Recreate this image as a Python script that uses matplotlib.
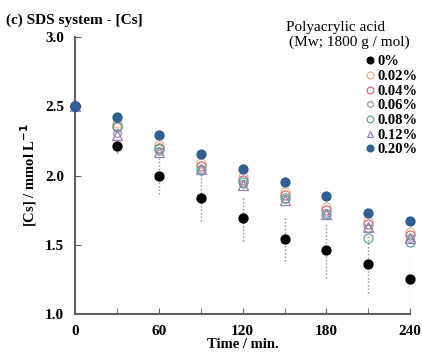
import matplotlib
matplotlib.use("Agg")
import matplotlib.pyplot as plt

plt.rcParams['font.family'] = ['Liberation Serif', 'DejaVu Serif']

time = [0, 30, 60, 90, 120, 150, 180, 210, 240]
labels = ['0%', '0.02%', '0.04%', '0.06%', '0.08%', '0.12%', '0.20%']
cs = {
    '0%':    [2.50, 2.21, 2.00, 1.84, 1.69, 1.54, 1.46, 1.36, 1.25],
    '0.02%': [2.50, 2.38, 2.22, 2.09, 1.99, 1.88, 1.77, 1.67, 1.59],
    '0.04%': [2.50, 2.35, 2.20, 2.07, 1.97, 1.86, 1.75, 1.65, 1.57],
    '0.06%': [2.50, 2.31, 2.18, 2.05, 1.94, 1.83, 1.73, 1.62, 1.55],
    '0.08%': [2.50, 2.36, 2.19, 2.04, 1.95, 1.84, 1.72, 1.55, 1.52],
    '0.12%': [2.50, 2.29, 2.17, 2.05, 1.93, 1.82, 1.72, 1.63, 1.55],
    '0.20%': [2.50, 2.42, 2.29, 2.155, 2.05, 1.95, 1.85, 1.73, 1.67],
}
err0 = [0.0, 0.05, 0.13, 0.17, 0.16, 0.155, 0.20, 0.21, 0.155]

styles = {
    '0%':    dict(marker='o', mfc='black', mec='black', ms=6.5),
    '0.02%': dict(marker='o', mfc='none', mec='#f0b48a', ms=6.5),
    '0.04%': dict(marker='o', mfc='none', mec='#d46a78', ms=6.5),
    '0.06%': dict(marker='o', mfc='none', mec='#8a9ab8', ms=5.5),
    '0.08%': dict(marker='o', mfc='none', mec='#4fb08e', ms=6.5),
    '0.12%': dict(marker='^', mfc='none', mec='#9a7ab8', ms=6.5),
    '0.20%': dict(marker='o', mfc='#2e6093', mec='#2e6093', ms=6.5),
}

fig = plt.figure(figsize=(4.22, 3.56), dpi=100)
ax = fig.add_axes([0.178, 0.118, 0.794, 0.778])

# error bars of the 0% series (dotted)
eb = ax.errorbar(time, cs['0%'], yerr=err0, fmt='none', ecolor='#8c8c8c',
                 elinewidth=1.0, capsize=0, zorder=1)
eb[2][0].set_linestyle((0, (1, 1.5)))

lines = {}
for lab in labels[1:-1] + ['0%', '0.20%']:
    st = styles[lab]
    h, = ax.plot(time, cs[lab], linestyle='none', marker=st['marker'],
                 markerfacecolor=st['mfc'], markeredgecolor=st['mec'],
                 markersize=st['ms'], markeredgewidth=0.9, label=lab,
                 zorder=3, clip_on=False)
    lines[lab] = h
handles = [lines[lab] for lab in labels]

ax.set_xlim(0, 240)
ax.set_ylim(1.0, 3.0)
ax.set_xticks([0, 60, 120, 180, 240])
ax.set_xticks([30, 90, 150, 210], minor=True)
ax.set_yticks([1.0, 1.5, 2.0, 2.5, 3.0])
ax.set_yticklabels(['1.0', '1.5', '2.0', '2.5', '3.0'])
for s in ['top', 'right']:
    ax.spines[s].set_visible(False)
for s in ['left', 'bottom']:
    ax.spines[s].set_color('#606060')
    ax.spines[s].set_linewidth(1.5)
ax.tick_params(which='both', direction='in', length=4, color='#606060',
               labelsize=11, pad=8)
for t in ax.get_xticklabels() + ax.get_yticklabels():
    t.set_fontweight('bold')

ax.set_xlabel('Time / min.', fontsize=10.5, fontweight='bold', labelpad=0)
ax.set_ylabel('[Cs] / mmol L$^{\\mathbf{-1}}$', fontsize=10.5, fontweight='bold', labelpad=4)
fig.text(0.015, 0.944, '(c) SDS system - [Cs]', fontsize=11, fontweight='bold',
         ha='left', va='center')

fig.text(0.794, 0.924, 'Polyacrylic acid', fontsize=11, ha='center', va='center')
fig.text(0.827, 0.882, '(Mw; 1800 g / mol)', fontsize=11, ha='center', va='center')
leg = ax.legend(handles=handles, labels=labels, loc='upper right',
                bbox_to_anchor=(0.99, 0.845), bbox_transform=fig.transFigure,
                frameon=False, handlelength=0.6, handletextpad=0.25,
                labelspacing=0.1, borderpad=0, borderaxespad=0,
                prop={'weight': 'bold', 'size': 10.5}, markerscale=0.75)

fig.savefig('out.png', dpi=100)
